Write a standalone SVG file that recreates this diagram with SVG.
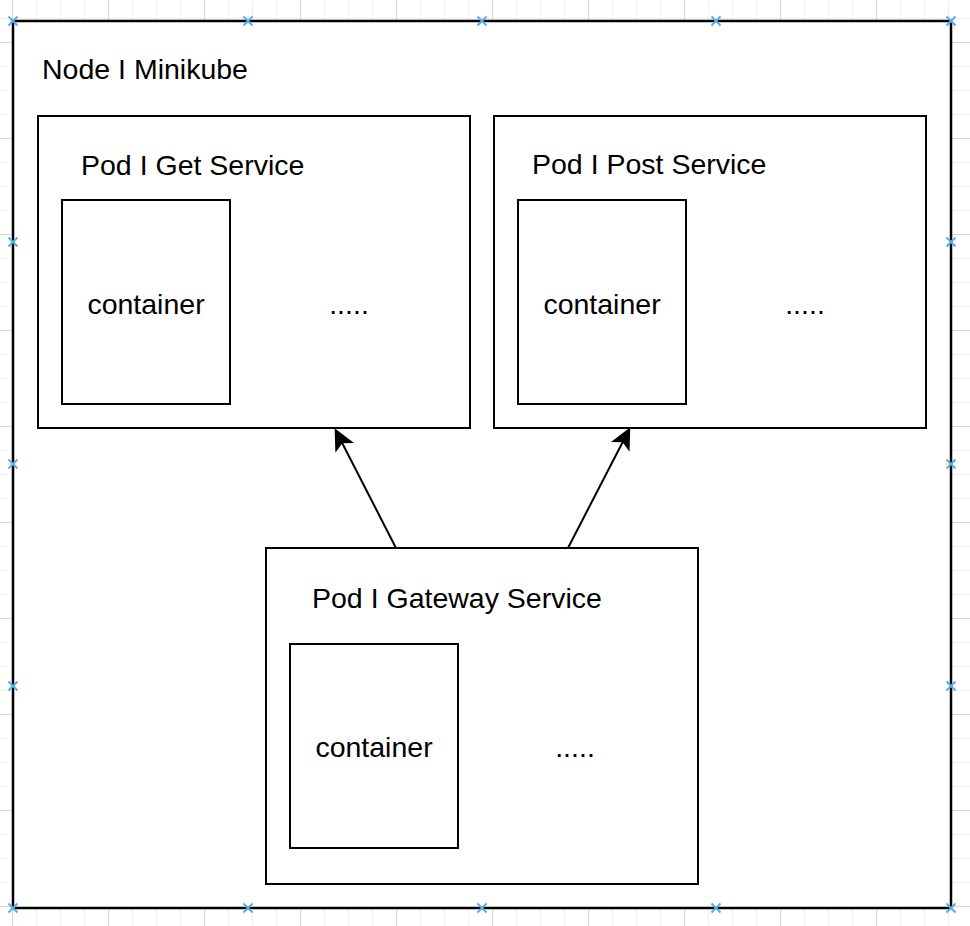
<svg xmlns="http://www.w3.org/2000/svg" width="970" height="926" viewBox="0 0 970 926">
<defs>
<style>
.box{fill:#ffffff;stroke:#000000;stroke-width:2}
.outer{fill:#ffffff;stroke:#000000;stroke-width:2.5}
.t{font-family:"Liberation Sans",Arial,Helvetica,sans-serif;font-size:28.5px;fill:#000000}
.c{text-anchor:middle}
.conn{stroke:#000000;stroke-width:2;fill:none}
.gmin{stroke:#efefef;stroke-width:1}
.gmaj{stroke:#d8d8d8;stroke-width:1}
.mk{stroke:#5aaee8;stroke-width:2;fill:none}
</style>
<pattern id="gridMinor" x="12" y="18" width="24" height="24" patternUnits="userSpaceOnUse">
<path d="M0.5,0 V24 M0,0.5 H24" class="gmin"/>
</pattern>
<pattern id="gridMajor" x="12" y="42" width="96" height="96" patternUnits="userSpaceOnUse">
<path d="M0.5,0 V96 M0,0.5 H96" class="gmaj"/>
</pattern>
<marker id="arr" markerUnits="userSpaceOnUse" markerWidth="22" markerHeight="22" viewBox="0 0 21 20" refX="5" refY="10" orient="auto">
<path d="M0,0 L21,10 L0,20 L5,10 Z" fill="#000000"/>
</marker>
<path id="x" d="M-4.5,-4.5 L4.5,4.5 M-4.5,4.5 L4.5,-4.5" class="mk"/>
</defs>
<rect x="0" y="0" width="970" height="926" fill="#ffffff"/>
<rect x="0" y="0" width="970" height="926" fill="url(#gridMinor)"/>
<rect x="0" y="0" width="970" height="926" fill="url(#gridMajor)"/>

<g id="node-minikube">
<rect class="outer" x="13" y="21" width="938" height="887"/>
<text class="t" x="42" y="79">Node I Minikube</text>
</g>

<g id="pod-get">
<rect class="box" x="38" y="116" width="432" height="312"/>
<text class="t" x="81" y="175">Pod I Get Service</text>
</g>
<g id="container-get">
<rect class="box" x="62" y="200" width="168" height="204"/>
<text class="t c" x="146" y="314">container</text>
</g>
<g id="dots-get">
<text class="t c" x="349" y="314">.....</text>
</g>

<g id="pod-post">
<rect class="box" x="494" y="116" width="432" height="312"/>
<text class="t" x="532" y="174">Pod I Post Service</text>
</g>
<g id="container-post">
<rect class="box" x="518" y="200" width="168" height="204"/>
<text class="t c" x="602" y="314">container</text>
</g>
<g id="dots-post">
<text class="t c" x="805" y="314">.....</text>
</g>

<g id="pod-gateway">
<rect class="box" x="266" y="548" width="432" height="336"/>
<text class="t" x="312" y="608">Pod I Gateway Service</text>
</g>
<g id="container-gateway">
<rect class="box" x="290" y="644" width="168" height="204"/>
<text class="t c" x="374" y="757">container</text>
</g>
<g id="dots-gateway">
<text class="t c" x="575" y="757">.....</text>
</g>

<g id="connectors">
<line class="conn" x1="396" y1="548" x2="342.3" y2="443.2" marker-end="url(#arr)"/>
<line class="conn" x1="568" y1="548" x2="622.6" y2="442.2" marker-end="url(#arr)"/>
</g>

<g id="markers">
<use href="#x" x="13" y="21"/><use href="#x" x="248" y="21"/><use href="#x" x="482" y="21"/><use href="#x" x="716" y="21"/><use href="#x" x="951" y="21"/>
<use href="#x" x="13" y="908"/><use href="#x" x="248" y="908"/><use href="#x" x="482" y="908"/><use href="#x" x="716" y="908"/><use href="#x" x="951" y="908"/>
<use href="#x" x="13" y="242"/><use href="#x" x="13" y="464"/><use href="#x" x="13" y="686"/>
<use href="#x" x="951" y="242"/><use href="#x" x="951" y="464"/><use href="#x" x="951" y="686"/>
</g>
</svg>
